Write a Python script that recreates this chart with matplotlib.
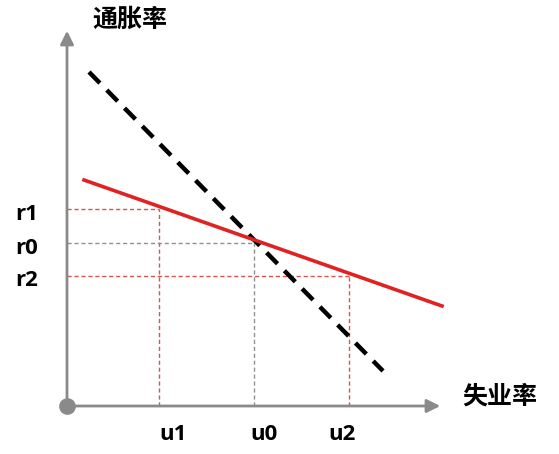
import matplotlib
matplotlib.use("Agg")
import matplotlib.pyplot as plt

plt.rcParams['font.family'] = ['Noto Sans CJK SC', 'DejaVu Sans']

# values (origin at the corner of the axes)
u_vals = [92, 187, 282]          # u1, u0, u2
r_vals = [197, 163, 130]         # r1, r0, r2
u_labels = ['u1', 'u0', 'u2']
r_labels = ['r1', 'r0', 'r2']
guide_colors = ['#d9534f', '#909090', '#d9534f']

red_x = [17, 375]
red_y = [226, 100]
black_x = [22, 316]
black_y = [334, 35]

x_max, y_max = 376, 378

# label placement (the labels in the source are not centred on the lines)
u_label_shift = [14, 10, -7]
r_label_shift = [-5, -5, -4]

fig = plt.figure(figsize=(5.59, 4.54), dpi=100)
ax = fig.add_axes([0, 0, 1, 1])
ax.set_xlim(-67, 492)
ax.set_ylim(-48, 406)
ax.axis('off')

# guide lines
for u, r, c in zip(u_vals, r_vals, guide_colors):
    ax.plot([0, u], [r, r], color=c, lw=1, ls=(0, (3, 2)), zorder=1)
    ax.plot([u, u], [0, r], color=c, lw=1, ls=(0, (3, 2)), zorder=1)

# curves
ax.plot(black_x, black_y, color='black', lw=3.2, ls=(0, (3.5, 2.2)), zorder=3)
ax.plot(red_x, red_y, color='#e02222', lw=2.6, zorder=4)

# axes with arrows
ax.annotate('', xy=(0, y_max), xytext=(0, 0),
            arrowprops=dict(arrowstyle='-|>', color='#8a8a8a', lw=2, mutation_scale=20))
ax.annotate('', xy=(x_max, 0), xytext=(0, 0),
            arrowprops=dict(arrowstyle='-|>', color='#8a8a8a', lw=2, mutation_scale=20))
ax.plot([0], [0], 'o', color='#8a8a8a', ms=11, zorder=5)

# labels
for u, lab, dx in zip(u_vals, u_labels, u_label_shift):
    ax.text(u + dx, -29, lab, ha='center', va='center', fontsize=16,
            fontweight='bold', family='Open Sans')
for r, lab, dy in zip(r_vals, r_labels, r_label_shift):
    ax.text(-40, r + dy, lab, ha='center', va='center', fontsize=16,
            fontweight='bold', family='Open Sans')

ax.text(63, 386, '通胀率', ha='center', va='center', fontsize=18, fontweight='bold')
ax.text(433, 9, '失业率', ha='center', va='center', fontsize=18, fontweight='bold')

fig.savefig('out.png', dpi=100)
